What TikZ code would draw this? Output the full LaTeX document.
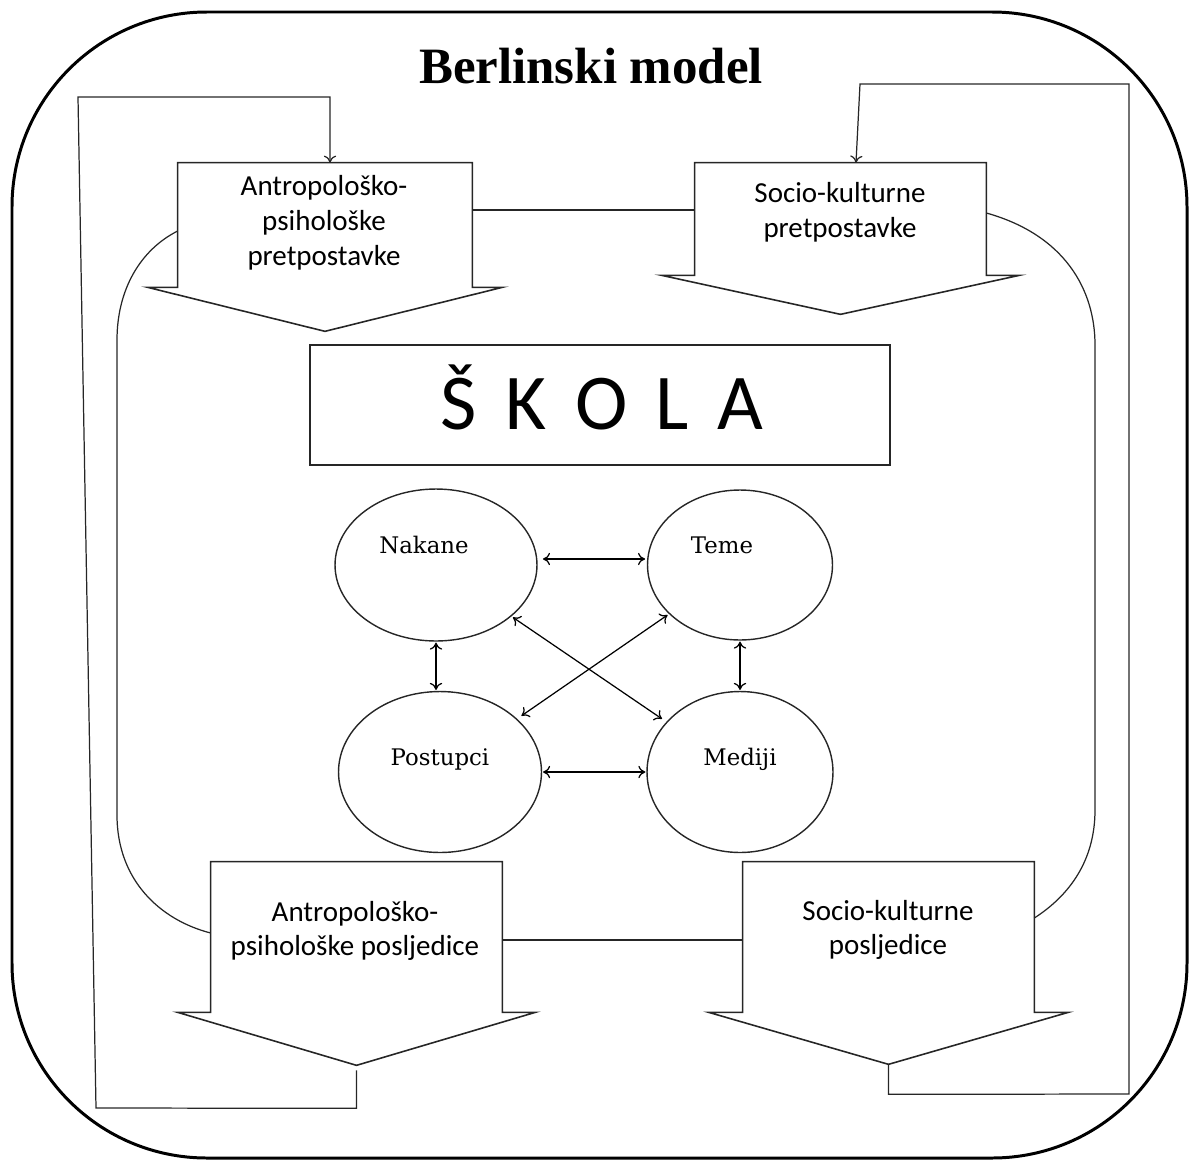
\documentclass[tikz,border=0pt]{standalone}
\usepackage{fontspec}
\setmainfont{Liberation Serif}
\newfontfamily\calfont{Carlito}
\newfontfamily\slabfont{DejaVu Serif}
\usetikzlibrary{positioning,calc,shapes.geometric,arrows.meta}

\begin{document}
\begin{tikzpicture}[x=0.02cm,y=-0.02cm,
    frame/.style={line width=1.7pt,rounded corners=3.9cm},
    body/.style={rectangle,inner sep=0pt},
    shapeline/.style={line width=0.9pt,draw=black!85},
    atext/.style={font=\calfont\fontsize{16.5}{19.8}\selectfont,align=center,inner sep=0pt},
    circ/.style={ellipse,draw=black!85,line width=0.8pt,inner sep=0pt},
    ctext/.style={font=\slabfont\fontsize{13}{15}\selectfont,inner sep=0pt,anchor=base},
    dbl/.style={{To[length=4pt,width=7pt]}-{To[length=4pt,width=7pt]},line width=0.7pt},
    link/.style={line width=0.7pt,draw=black!85},
    fb/.style={link,-{To[length=4pt,width=7pt]}}]
\useasboundingbox (0,0) rectangle (1190,1160);

% okvir i naslov
\draw[frame] (12,12) rectangle (1187,1158);
\node[font=\bfseries\fontsize{29}{32}\selectfont,anchor=base] (title) at (591,83) {Berlinski model};

% pretpostavke
\node[body,minimum width=5.88cm,minimum height=2.48cm] (apre) at (325,225) {};
\coordinate (apre tip) at ($(apre.south)+(0,44)$);
\draw[shapeline] (apre.north west) -- (apre.north east) -- (apre.south east) -- ++(30,0)
    -- (apre tip) -- ($(apre.south west)+(-30,0)$) -- (apre.south west) -- cycle;
\node[atext] (apret) at (324,223) {Antropološko-\\psihološke\\pretpostavke};

\node[body,minimum width=5.82cm,minimum height=2.24cm] (spre) at (840.5,219) {};
\coordinate (spre tip) at ($(spre.south)+(0,39)$);
\draw[shapeline] (spre.north west) -- (spre.north east) -- (spre.south east) -- ++(33,0)
    -- (spre tip) -- ($(spre.south west)+(-33,0)$) -- (spre.south west) -- cycle;
\node[atext] (spret) at (840,212) {Socio-kulturne\\pretpostavke};

% posljedice
\node[body,minimum width=5.82cm,minimum height=3cm] (apos) at (356.5,937) {};
\coordinate (apos tip) at ($(apos.south)+(0,53)$);
\draw[shapeline] (apos.north west) -- (apos.north east) -- (apos.south east) -- ++(33,0)
    -- (apos tip) -- ($(apos.south west)+(-33,0)$) -- (apos.south west) -- cycle;
\node[atext] (apost) at (355,931) {Antropološko-\\psihološke posljedice};

\node[body,minimum width=5.82cm,minimum height=3cm] (spos) at (888.5,937) {};
\coordinate (spos tip) at ($(spos.south)+(0,52)$);
\draw[shapeline] (spos.north west) -- (spos.north east) -- (spos.south east) -- ++(34,0)
    -- (spos tip) -- ($(spos.south west)+(-34,0)$) -- (spos.south west) -- cycle;
\node[atext] (spost) at (888,930) {Socio-kulturne\\posljedice};

% skola
\node[draw=black!85,line width=0.9pt,minimum width=11.6cm,minimum height=2.4cm] (skola) at (600,405) {};
\node[font={\calfont\fontsize{45}{48}\selectfont\spaceskip=0.36em\relax},anchor=base,inner sep=0pt] (skolat) at (602,429) {Š K O L A};

% krugovi
\node[circ,minimum width=4.04cm,minimum height=3.04cm] (nak) at (436,565) {};
\node[circ,minimum width=3.7cm,minimum height=3cm] (tem) at (740,565) {};
\node[circ,minimum width=4.06cm,minimum height=3.22cm] (pos) at (440,772) {};
\node[circ,minimum width=3.72cm,minimum height=3.22cm] (med) at (740,772) {};
\node[ctext] (nakt) at (424,553) {Nakane};
\node[ctext] (temt) at (722,553) {Teme};
\node[ctext] (post) at (440,765) {Postupci};
\node[ctext] (medt) at (740,765) {Mediji};

\draw[dbl,shorten <=3pt,shorten >=1pt] ([yshift=0.12cm]nak.east) -- ([yshift=0.12cm]tem.west);
\draw[dbl,shorten <=0.5pt,shorten >=0.5pt] (pos.east) -- (med.west);
\draw[dbl,shorten <=0.5pt,shorten >=0.5pt] (nak.south) -- (nak.south |- pos.north);
\draw[dbl,shorten <=0.5pt,shorten >=0.5pt] (tem.south) -- (tem.south |- med.north);
\draw[dbl,shorten <=1pt,shorten >=3pt] (nak) -- (med);
\draw[dbl,shorten <=1pt,shorten >=3pt] (tem) -- (pos);

% veze
\draw[link] (apre.east |- 0,210) -- (spre.west |- 0,210);
\draw[link] (apos.east |- 0,940) -- (spos.west |- 0,940);
\draw[link] (apre.west |- 0,231) .. controls (140,250) and (117,290) .. (117,340)
    -- (117,815) .. controls (117,880) and (160,920) .. (apos.west |- 0,933);
\draw[link] (spre.east |- 0,213) .. controls (1065,235) and (1095,290) .. (1095,345)
    -- (1095,810) .. controls (1095,860) and (1070,895) .. (spos.east |- 0,918);

% povratne petlje
\draw[fb] ($(apos tip)+(0,5)$) -- ++(0,38) -- (96,1108) -- (78,97) -| ([xshift=0.1cm]apre.north);
\draw[fb] (spos tip) -- ++(0,30) -- (1129,1094) -- (1129,84) -- (860,84) -- ([xshift=0.31cm]spre.north);
\end{tikzpicture}
\end{document}
